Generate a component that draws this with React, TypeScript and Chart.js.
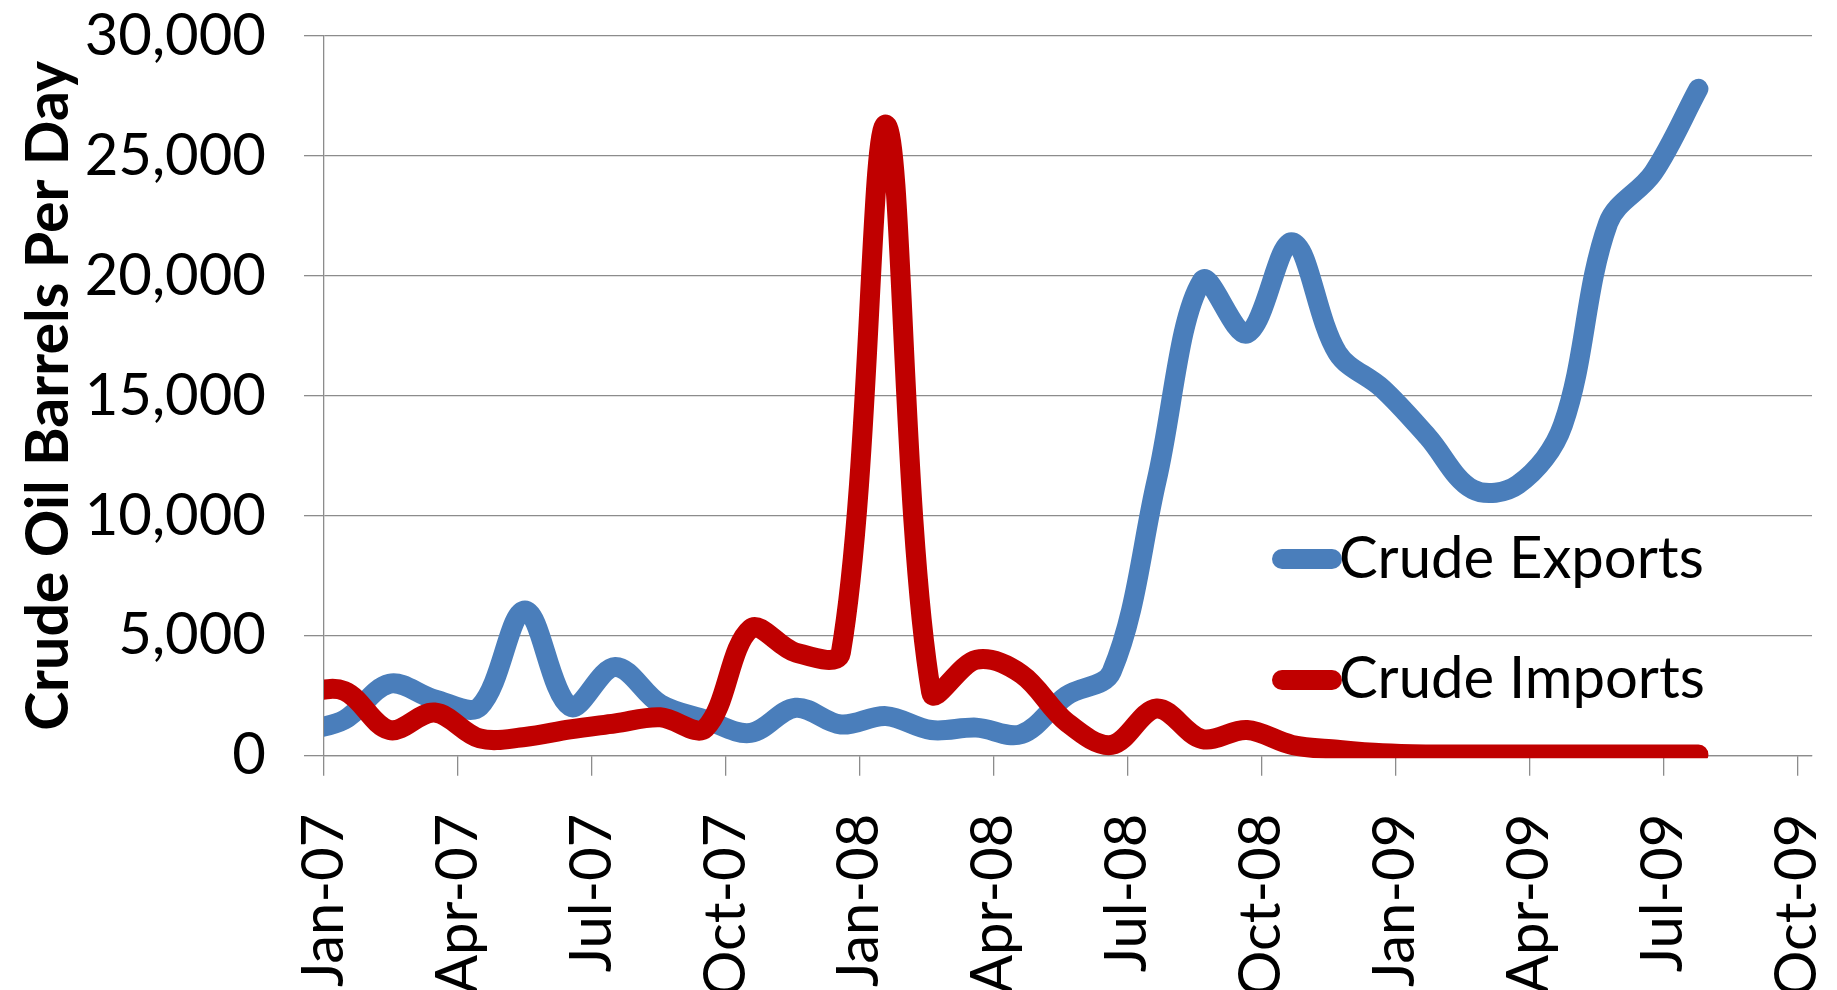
import React, { useEffect, useRef } from 'react';
import { Chart, registerables } from 'chart.js';

Chart.register(...registerables);

// ---- data ----
const POINT_MONTHS = [
  'Dec-06',
  'Jan-07', 'Feb-07', 'Mar-07', 'Apr-07', 'May-07', 'Jun-07', 'Jul-07', 'Aug-07', 'Sep-07', 'Oct-07', 'Nov-07', 'Dec-07',
  'Jan-08', 'Feb-08', 'Mar-08', 'Apr-08', 'May-08', 'Jun-08', 'Jul-08', 'Aug-08', 'Sep-08', 'Oct-08', 'Nov-08', 'Dec-08',
  'Jan-09', 'Feb-09', 'Mar-09', 'Apr-09', 'May-09', 'Jun-09', 'Jul-09',
];

const CRUDE_EXPORTS = [
  1000,
  1500, 3000, 2350, 2050, 6050, 2050, 3700, 2150, 1500, 950, 2000, 1300,
  1650, 1070, 1170, 900, 2500, 3500, 11500, 19800, 17600, 21400, 16800, 15300,
  13300, 11100, 11300, 13800, 22200, 24300, 27800,
];

const CRUDE_IMPORTS = [
  2600,
  2700, 1070, 1800, 720, 780, 1100, 1350, 1600, 1150, 5300, 4300, 4300,
  26300, 2650, 4000, 3400, 1400, 450, 1970, 700, 1070, 450, 250, 100,
  50, 50, 50, 50, 50, 50, 50,
];

const TICK_LABELS = [
  'Jan-07', 'Apr-07', 'Jul-07', 'Oct-07', 'Jan-08', 'Apr-08',
  'Jul-08', 'Oct-08', 'Jan-09', 'Apr-09', 'Jul-09', 'Oct-09',
];

const SERIES_NAMES = ['Crude Exports', 'Crude Imports'];
const Y_TITLE = 'Crude Oil Barrels Per Day';

// date axis: days counted from 1 Jan 2007
const FIRST_POINT_DAY = -17;
const POINT_STEP_DAYS = 31;
const TICK_STEP_DAYS = 92;
const AXIS_END_DAY = 1022;
const Y_MAX = 30000;
const Y_STEP = 5000;

// ---- styles ----
const BLUE = '#4A7EBB';
const RED = '#C00000';
const GRID = '#8C8C8C';
const FONT = 'Lato';

const toPoints = (vals: number[]) =>
  vals.map((v, i) => ({ x: FIRST_POINT_DAY + i * POINT_STEP_DAYS, y: v }));

const insideLegend = {
  id: 'insideLegend',
  afterDraw(chart: any) {
    const ctx = chart.ctx as CanvasRenderingContext2D;
    const rows = [
      { ds: 0, lineY: 559, baseY: 578 },
      { ds: 1, lineY: 680, baseY: 698 },
    ];
    ctx.save();
    rows.forEach((r) => {
      const ds = chart.data.datasets[r.ds];
      ctx.strokeStyle = ds.borderColor;
      ctx.lineWidth = 20;
      ctx.lineCap = 'round';
      ctx.beginPath();
      ctx.moveTo(1282, r.lineY);
      ctx.lineTo(1332, r.lineY);
      ctx.stroke();
      ctx.fillStyle = '#000';
      ctx.font = `58px ${FONT}`;
      ctx.textBaseline = 'alphabetic';
      ctx.textAlign = 'left';
      ctx.fillText(ds.label, 1339, r.baseY);
    });
    ctx.restore();
  },
};

export default function App() {
  const ref = useRef<HTMLCanvasElement | null>(null);

  useEffect(() => {
    if (!ref.current) return;
    const chart = new Chart(ref.current, {
      type: 'line',
      data: {
        datasets: [
          {
            label: SERIES_NAMES[0],
            data: toPoints(CRUDE_EXPORTS),
            borderColor: BLUE,
            backgroundColor: BLUE,
            borderWidth: 20,
            borderCapStyle: 'round',
            borderJoinStyle: 'round',
            pointRadius: 0,
            tension: 0.35,
            order: 1,
            clip: { left: 0, top: 20, right: 20, bottom: 2.5 },
          },
          {
            label: SERIES_NAMES[1],
            data: toPoints(CRUDE_IMPORTS),
            borderColor: RED,
            backgroundColor: RED,
            borderWidth: 20,
            borderCapStyle: 'round',
            borderJoinStyle: 'round',
            pointRadius: 0,
            tension: 0.35,
            order: 0,
            clip: { left: 0, top: 20, right: 20, bottom: 2.5 },
          },
        ],
      },
      options: {
        responsive: false,
        animation: false,
        devicePixelRatio: 1,
        layout: { padding: { top: 36, right: 25, bottom: 0, left: 0 } },
        plugins: {
          legend: { display: false },
          tooltip: { enabled: false },
        },
        scales: {
          x: {
            type: 'linear',
            min: 0,
            max: AXIS_END_DAY,
            afterBuildTicks: (scale: any) => {
              scale.ticks = TICK_LABELS.map((_, i) => ({ value: i * TICK_STEP_DAYS }));
            },
            afterFit: (scale: any) => {
              scale.height = 234.3;
              scale.paddingLeft = 0;
              scale.paddingRight = 0;
            },
            grid: {
              display: true,
              drawOnChartArea: false,
              drawTicks: true,
              tickLength: 20,
              color: GRID,
              lineWidth: 1.3,
            },
            border: { display: true, color: GRID, width: 1.3 },
            ticks: {
              autoSkip: false,
              maxRotation: 90,
              minRotation: 90,
              padding: 38,
              color: '#000',
              font: { family: FONT, size: 58 },
              callback: (_v: any, i: number) => TICK_LABELS[i],
            },
          },
          y: {
            type: 'linear',
            min: 0,
            max: Y_MAX,
            afterFit: (scale: any) => {
              scale.width = 324;
              scale.paddingTop = 0;
              scale.paddingBottom = 0;
            },
            grid: {
              display: true,
              drawOnChartArea: true,
              drawTicks: true,
              tickLength: 20,
              color: GRID,
              lineWidth: 1.3,
            },
            border: { display: true, color: GRID, width: 1.3 },
            ticks: {
              stepSize: Y_STEP,
              padding: 38,
              color: '#000',
              font: { family: FONT, size: 58 },
              callback: (v: any) => Number(v).toLocaleString('en-US'),
            },
            title: {
              display: true,
              text: Y_TITLE,
              color: '#000',
              font: { family: FONT, size: 59, weight: 'bold' },
              padding: { top: 14, bottom: 0 },
            },
          },
        },
      },
      plugins: [insideLegend],
    } as any);
    return () => chart.destroy();
  }, []);

  return (
    <div style={{ position: 'absolute', left: 0, top: 0, width: 1837, height: 990, background: '#fff' }}>
      <canvas ref={ref} width={1837} height={990} style={{ display: 'block' }} />
    </div>
  );
}
